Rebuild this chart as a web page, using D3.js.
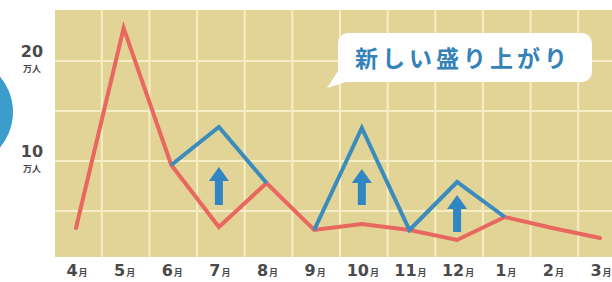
<!DOCTYPE html>
<html>
<head>
<meta charset="utf-8">
<script src="https://cdn.jsdelivr.net/npm/d3@7/dist/d3.min.js"></script>
<style>
  html, body { margin: 0; padding: 0; background: #ffffff; }
  svg { display: block; }
</style>
</head>
<body>
<svg id="chart"></svg>
<script>
// months along the bottom
const months = ["4月", "5月", "6月", "7月", "8月", "9月", "10月", "11月", "12月", "1月", "2月", "3月"];

// visitors (万人), red line
const visitorValues = [3.3, 23.3, 9.6, 3.4, 7.8, 3.1, 3.7, 3.1, 2.1, 4.4, 3.3, 2.3];

// "new boom" blue lines, two pieces
const boomMonthsA = ["6月", "7月", "8月"];
const boomValuesA = [9.6, 13.4, 7.8];
const boomMonthsB = ["9月", "10月", "11月", "12月", "1月"];
const boomValuesB = [3.1, 13.3, 3.1, 7.9, 4.4];

// up arrows: month, from, to
const arrowMonths = ["7月", "10月", "12月"];
const arrowFrom = [5.6, 5.6, 2.9];
const arrowTo = [9.4, 9.2, 6.6];

const yTicks = [20, 10];
const yGrid = [20, 15, 10, 5];
const bubbleText = "新しい盛り上がり";

const W = 612, H = 282;
const FONT = "'Noto Sans CJK JP', 'Noto Sans', sans-serif";
const NUM_FONT = "'DejaVu Sans', 'Noto Sans', sans-serif";

const svg = d3.select("#chart").attr("width", W).attr("height", H);

const x = d3.scalePoint().domain(months).range([76, 600]);
const y = d3.scaleLinear().domain([0, 20]).range([261, 61]);
const step = x.step();

const plotTop = 10, plotBottom = 257, plotLeft = 55;

// blue circle peeking on the left edge
svg.append("circle")
  .attr("cx", -42).attr("cy", 112).attr("r", 55)
  .attr("fill", "#3b9dc9");

// plot background
svg.append("rect")
  .attr("x", plotLeft).attr("y", plotTop)
  .attr("width", W - plotLeft).attr("height", plotBottom - plotTop)
  .attr("fill", "#e2d397");

// grid
const grid = svg.append("g").attr("stroke", "#f6eec6").attr("stroke-width", 2);
grid.selectAll("line.v")
  .data(months.slice(1))
  .join("line")
  .attr("class", "v")
  .attr("x1", (d) => x(d) - step / 2 + 2)
  .attr("x2", (d) => x(d) - step / 2 + 2)
  .attr("y1", plotTop).attr("y2", plotBottom);
grid.selectAll("line.h")
  .data(yGrid)
  .join("line")
  .attr("class", "h")
  .attr("x1", plotLeft).attr("x2", W)
  .attr("y1", (d) => y(d)).attr("y2", (d) => y(d));

// speech bubble
const bubble = svg.append("g");
bubble.append("rect")
  .attr("x", 338).attr("y", 33)
  .attr("width", 254).attr("height", 49)
  .attr("rx", 10)
  .attr("fill", "#ffffff");
bubble.append("path")
  .attr("d", "M340,68 L327,88 L352,80 Z")
  .attr("fill", "#ffffff");
bubble.append("text")
  .attr("x", 463).attr("y", 67)
  .attr("text-anchor", "middle")
  .attr("font-family", FONT)
  .attr("font-weight", 700)
  .attr("font-size", 23)
  .attr("letter-spacing", 4)
  .attr("fill", "#3482b8")
  .text(bubbleText);

const line = d3.line()
  .x((d) => x(d[0]))
  .y((d) => y(d[1]));

// red line
svg.append("path")
  .datum(d3.zip(months, visitorValues))
  .attr("d", line)
  .attr("fill", "none")
  .attr("stroke", "#e8675f")
  .attr("stroke-width", 4)
  .attr("stroke-linejoin", "miter")
  .attr("stroke-linecap", "round");

// blue lines
[[boomMonthsA, boomValuesA], [boomMonthsB, boomValuesB]].forEach(([ms, vs]) => {
  svg.append("path")
    .datum(d3.zip(ms, vs))
    .attr("d", line)
    .attr("fill", "none")
    .attr("stroke", "#3a8cbd")
    .attr("stroke-width", 4)
    .attr("stroke-linejoin", "miter");
});

// arrows
const arrows = svg.append("g").attr("fill", "#2f86c2");
arrowMonths.forEach((m, i) => {
  const cx = x(m);
  const y0 = y(arrowFrom[i]);
  const y1 = y(arrowTo[i]);
  const head = 14;
  arrows.append("path")
    .attr("d", `M${cx - 4},${y0} L${cx - 4},${y1 + head} L${cx - 10},${y1 + head} L${cx},${y1} L${cx + 10},${y1 + head} L${cx + 4},${y1 + head} L${cx + 4},${y0} Z`);
});

// month labels
const xl = svg.append("g")
  .attr("font-weight", 700)
  .attr("fill", "#4a4a4a");
xl.selectAll("text")
  .data(months)
  .join("text")
  .attr("x", (d) => x(d) + 1)
  .attr("y", 276)
  .attr("text-anchor", "middle")
  .each(function (d) {
    const t = d3.select(this);
    t.append("tspan").attr("font-family", NUM_FONT).attr("font-size", 16).text(d.replace("月", ""));
    t.append("tspan").attr("font-family", FONT).attr("font-size", 9).attr("dx", 1).text("月");
  });

// y labels
const yl = svg.append("g")
  .attr("font-weight", 700)
  .attr("fill", "#4a4a4a")
  .attr("text-anchor", "middle");
yTicks.forEach((v) => {
  yl.append("text")
    .attr("x", 32).attr("y", y(v) - 4)
    .attr("font-family", NUM_FONT)
    .attr("font-size", 16)
    .text(v);
  yl.append("text")
    .attr("x", 32).attr("y", y(v) + 11)
    .attr("font-family", FONT)
    .attr("font-size", 9)
    .text("万人");
});
</script>
</body>
</html>
